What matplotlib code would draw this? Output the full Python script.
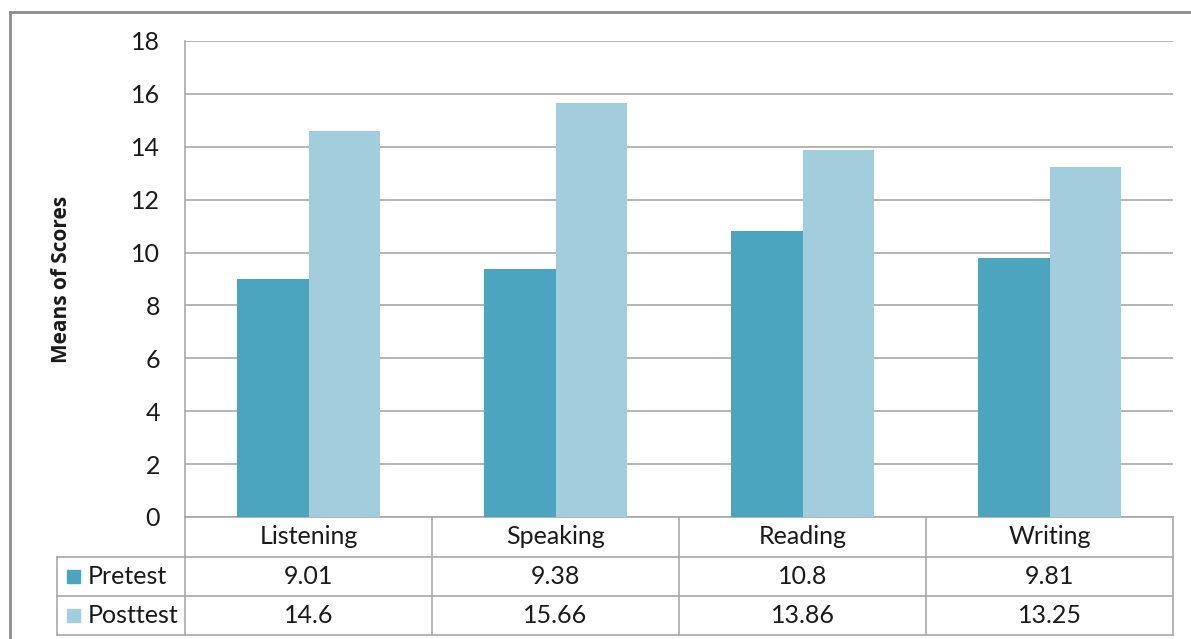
import matplotlib.pyplot as plt
import matplotlib.transforms as mtransforms
from matplotlib.lines import Line2D
from matplotlib.patches import Rectangle

# Mean scores per skill, before and after the course
skills = ['Listening', 'Speaking', 'Reading', 'Writing']
series_names = ['Pretest', 'Posttest']
pretest = [9.01, 9.38, 10.8, 9.81]
posttest = [14.6, 15.66, 13.86, 13.25]
value_labels = [['9.01', '9.38', '10.8', '9.81'],
                ['14.6', '15.66', '13.86', '13.25']]
y_ticks = [0, 2, 4, 6, 8, 10, 12, 14, 16, 18]

colors = ['#4BA5BE', '#A1CDDC']
line_grey = '#A8A8A8'
text_color = '#1A1A1A'

plt.rcParams['font.family'] = ['Lato', 'DejaVu Sans']

fig = plt.figure(figsize=(11.91, 6.39), dpi=100)
ax = fig.add_axes([185 / 1191, 1 - 517 / 639, 988 / 1191, 476 / 639])

width = 0.29
x = list(range(len(skills)))
ax.bar([i - width / 2 for i in x], pretest, width, color=colors[0], zorder=3)
ax.bar([i + width / 2 for i in x], posttest, width, color=colors[1], zorder=3)

ax.set_xlim(-0.5, len(skills) - 0.5)
ax.set_ylim(0, 18)
ax.set_yticks(y_ticks)
ax.tick_params(axis='y', length=0, pad=18, labelsize=18, labelcolor=text_color)
ax.set_xticks([])
ax.yaxis.grid(True, color=line_grey, linewidth=1.2, zorder=0)
for side in ['top', 'right', 'bottom']:
    ax.spines[side].set_visible(False)
ax.spines['left'].set_color(line_grey)
ax.spines['left'].set_linewidth(1.2)

ax.set_ylabel('Means of Scores', fontsize=15, fontweight='bold', labelpad=0,
              color=text_color, family=['Open Sans', 'DejaVu Sans'])
ax.yaxis.set_label_coords(-0.1144, 0.5)

# Data table below the plot: columns in data x, rows in axes fraction
trans = mtransforms.blended_transform_factory(ax.transData, ax.transAxes)
row_edges = [0, -0.084, -0.166, -0.248]
col_edges = [-0.5 + i for i in range(len(skills) + 1)]
legend_left = (57 - 185) / 988

def hline(x0, x1, y, tr):
    ax.add_line(Line2D([x0, x1], [y, y], transform=tr, color=line_grey,
                       linewidth=1.2, clip_on=False))

def vline(xv, y0, y1, tr):
    ax.add_line(Line2D([xv, xv], [y0, y1], transform=tr, color=line_grey,
                       linewidth=1.2, clip_on=False))

for y in row_edges:
    hline(col_edges[0], col_edges[-1], y, trans)
for xv in col_edges:
    vline(xv, row_edges[0], row_edges[-1], trans)
for y in row_edges[1:]:
    hline(legend_left, 0, y, ax.transAxes)
vline(legend_left, row_edges[1], row_edges[-1], ax.transAxes)

for i, name in enumerate(skills):
    ax.text(i, (row_edges[0] + row_edges[1]) / 2, name, transform=trans,
            ha='center', va='center', fontsize=18, color=text_color)

for r, name in enumerate(series_names):
    yc = (row_edges[r + 1] + row_edges[r + 2]) / 2
    ax.add_patch(Rectangle((legend_left + 0.010, yc - 0.014), 0.0135, 0.028,
                           transform=ax.transAxes, color=colors[r], clip_on=False))
    ax.text(legend_left + 0.031, yc, name, transform=ax.transAxes,
            ha='left', va='center', fontsize=18, color=text_color)
    for i, label in enumerate(value_labels[r]):
        ax.text(i, yc, label, transform=trans, ha='center', va='center',
                fontsize=18, color=text_color)

# Outer chart frame (only top and left edges fall inside the image)
fig.add_artist(Line2D([10 / 1191, 10 / 1191], [0, 1 - 12 / 639],
                      transform=fig.transFigure, color='#8C8C8C', linewidth=2))
fig.add_artist(Line2D([10 / 1191, 1], [1 - 12 / 639, 1 - 12 / 639],
                      transform=fig.transFigure, color='#8C8C8C', linewidth=2))

fig.savefig('out.png', dpi=100)
